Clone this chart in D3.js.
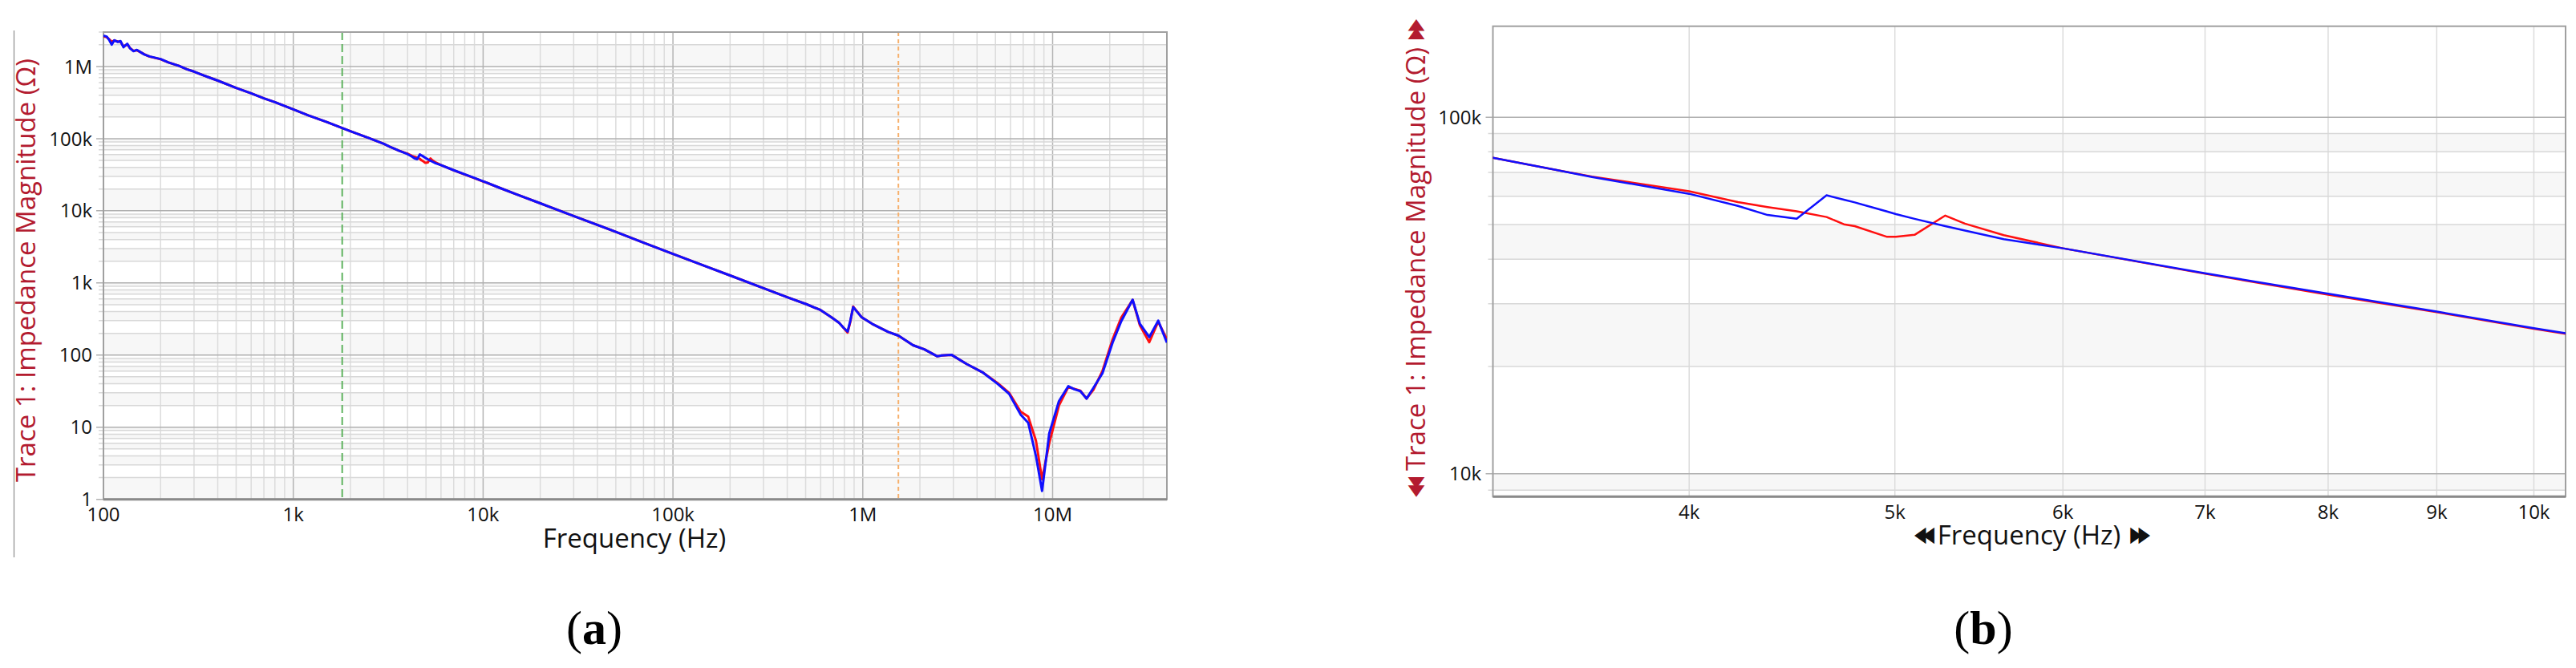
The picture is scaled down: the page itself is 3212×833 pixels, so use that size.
<!DOCTYPE html>
<html><head><meta charset="utf-8">
<script src="https://cdn.jsdelivr.net/npm/d3@7"></script>
<style>body{margin:0;background:#fff}svg{display:block}</style>
</head><body>
<svg id="c" width="3212" height="833"></svg>
<script>
// ---------------- data ----------------
const freqHz = [100,104,107,110.5,114,119,123,127.5,133.5,138,144,150,164,175,200,220,250,275,300,350,400,500,600,700,800,1000,1200,1500,2000,2500,3000,3233,3464,3600,4000,4217,4355,4495,4643,4731,4787,4958,5006,5108,5281,5395,5627,6000,7000,8000,9000,10000,10350,12000,15000,20000,30000,50000,70000,1e5,1.5e5,2e5,3e5,4e5,5.07e5,6e5,6.82e5,7.5e5,7.92e5,8.32e5,8.6e5,8.9e5,9.85e5,1.12e6,1.36e6,1.54e6,1.84e6,2.11e6,2.47e6,2.6e6,2.93e6,3.53e6,4.26e6,5.13e6,5.9e6,6.78e6,7.44e6,8.17e6,8.8e6,9.6e6,1.08e7,1.21e7,1.3e7,1.4e7,1.51e7,1.64e7,1.83e7,2.07e7,2.3e7,2.64e7,2.88e7,3.23e7,3.6e7,4e7];
const zBlue = [2.67e6,2.6e6,2.35e6,2.01e6,2.31e6,2.19e6,2.25e6,1.85e6,2.07e6,1.79e6,1.63e6,1.70e6,1.47e6,1.38e6,1.27e6,1.14e6,1.02e6,9.17e5,8.5e5,7.25e5,6.38e5,5.05e5,4.25e5,3.62e5,3.2e5,2.54e5,2.1e5,1.7e5,1.27e5,1.02e5,8.45e4,7.7e4,7.11e4,6.8e4,6.1e4,5.64e4,5.32e4,5.19e4,6.04e4,5.87e4,5.77e4,5.44e4,5.35e4,5.19e4,4.95e4,4.81e4,4.55e4,4.29e4,3.65e4,3.2e4,2.85e4,2.56e4,2.48e4,2.12e4,1.69e4,1.27e4,8450,5100,3620,2520,1690,1270,845,635,505,420,336,280,239,212,300,463,336,271,210,186,137,120,96,99,101,75,58,40,29,15,11.5,4.0,1.31,8.2,23,37,33.6,31.6,24.9,35,56,149,295,585,273,177,300,149];
const zRed = [2.6e6,2.55e6,2.4e6,2.2e6,2.28e6,2.22e6,2.2e6,1.9e6,2.02e6,1.8e6,1.65e6,1.68e6,1.48e6,1.37e6,1.26e6,1.14e6,1.02e6,9.17e5,8.5e5,7.25e5,6.38e5,5.05e5,4.25e5,3.62e5,3.2e5,2.54e5,2.1e5,1.7e5,1.27e5,1.02e5,8.45e4,7.7e4,7.11e4,6.82e4,6.2e4,5.78e4,5.6e4,5.45e4,5.25e4,5.01e4,4.95e4,4.62e4,4.62e4,4.68e4,5.3e4,5.03e4,4.67e4,4.29e4,3.64e4,3.18e4,2.84e4,2.55e4,2.47e4,2.12e4,1.69e4,1.27e4,8450,5100,3620,2520,1690,1270,845,635,505,420,336,280,239,205,290,470,336,271,210,186,137,120,96,99,101,75,58,41,30,16.5,14,6.5,1.9,6,20,36,34,32,25,33,60,165,330,580,260,151,290,165];
const markerFreqs = [1810, 1.54e6];
const xTicksA = [100,1e3,1e4,1e5,1e6,1e7];
const xTickLabelsA = ["100","1k","10k","100k","1M","10M"];
const yTicksA = [1,10,100,1e3,1e4,1e5,1e6];
const yTickLabelsA = ["1","10","100","1k","10k","100k","1M"];
const xTicksB = [4000,5000,6000,7000,8000,9000,10000];
const xTickLabelsB = ["4k","5k","6k","7k","8k","9k","10k"];
const yTicksB = [1e4,1e5];
const yTickLabelsB = ["10k","100k"];
const xTitle = "Frequency (Hz)";
const yTitle = "Trace 1: Impedance Magnitude (\u03A9)";

// ---------------- drawing ----------------
const svg = d3.select("#c");
const FONT = "'Open Sans','Noto Sans',sans-serif";
const pts = (zs) => freqHz.map((f,i)=>({f, z: zs[i]}));

function gridValues(dom){
  const out=[];
  const e0=Math.floor(Math.log10(dom[0]))-1, e1=Math.ceil(Math.log10(dom[1]));
  for(let e=e0;e<=e1;e++) for(let k=1;k<=9;k++){
    const v=+(k*Math.pow(10,e)).toPrecision(6);
    if(v>=dom[0]*0.999 && v<=dom[1]*1.001) out.push(v);
  }
  return out;
}
const isMajor = v => Math.abs(Math.log10(v)-Math.round(Math.log10(v)))<1e-6;

function panel(o){
  const x=d3.scaleLog().domain(o.xDomain).range([o.left,o.right]);
  const y=d3.scaleLog().domain(o.yDomain).range([o.bottom,o.top]);
  const g=svg.append("g");
  g.append("clipPath").attr("id",o.id+"clip").append("rect")
    .attr("x",o.left).attr("y",o.top).attr("width",o.right-o.left).attr("height",o.bottom-o.top);

  // alternating horizontal bands
  const yg=gridValues(o.yDomain);
  for(let i=0;i+1<yg.length;i+=2){
    g.append("rect").attr("x",o.left).attr("width",o.right-o.left)
      .attr("y",y(yg[i+1])).attr("height",y(yg[i])-y(yg[i+1])).attr("fill","#f7f7f7");
  }
  // vertical grid
  const xg = o.xGrid || gridValues(o.xDomain);
  g.selectAll(null).data(xg).enter().append("line")
    .attr("x1",d=>x(d)).attr("x2",d=>x(d)).attr("y1",o.top).attr("y2",o.bottom)
    .attr("stroke",d=>(o.xMajor&&isMajor(d))?"#b4b4b4":"#dcdcdc").attr("stroke-width",1.5);
  // horizontal grid + ticks
  g.selectAll(null).data(yg).enter().append("line")
    .attr("x1",d=>o.left-(isMajor(d)?9:6)).attr("x2",o.right).attr("y1",d=>y(d)).attr("y2",d=>y(d))
    .attr("stroke",d=>isMajor(d)?"#b0b0b0":"#d8d8d8").attr("stroke-width",1.5);

  // markers
  if(o.markers){
    g.selectAll(null).data(o.markers).enter().append("line")
      .attr("x1",d=>x(d.f)).attr("x2",d=>x(d.f)).attr("y1",o.top).attr("y2",o.bottom)
      .attr("stroke",d=>d.c).attr("stroke-width",2).attr("stroke-dasharray",d=>d.dash);
  }

  // border
  g.append("rect").attr("x",o.left).attr("y",o.top).attr("width",o.right-o.left).attr("height",o.bottom-o.top)
    .attr("fill","none").attr("stroke","#a0a0a0").attr("stroke-width",2);
  g.append("line").attr("x1",o.left).attr("x2",o.right).attr("y1",o.bottom).attr("y2",o.bottom)
    .attr("stroke","#8a8a8a").attr("stroke-width",3);

  // series
  const line=d3.line().x(d=>x(d.f)).y(d=>y(d.z));
  const sg=g.append("g").attr("clip-path",`url(#${o.id}clip)`);
  sg.append("path").datum(pts(zRed)).attr("d",line).attr("fill","none").attr("stroke","#ff1010").attr("stroke-width",o.lw).attr("stroke-linejoin","round");
  sg.append("path").datum(pts(zBlue)).attr("d",line).attr("fill","none").attr("stroke","#1010ff").attr("stroke-width",o.lw).attr("stroke-linejoin","round");

  // tick labels
  g.selectAll(null).data(o.xTicks).enter().append("text")
    .attr("x",d=>x(d)).attr("y",o.xLabelY).attr("text-anchor","middle")
    .attr("font-family",FONT).attr("font-size",24).attr("fill","#111")
    .text((d,i)=>o.xLabels[i]);
  g.selectAll(null).data(o.yTicks).enter().append("text")
    .attr("x",o.yLabelX).attr("y",d=>y(d)).attr("dy","0.36em").attr("text-anchor","end")
    .attr("font-family",FONT).attr("font-size",24).attr("fill","#111")
    .text((d,i)=>o.yLabels[i]);

  // x title
  const xt=g.append("text").attr("x",o.xTitleX).attr("y",o.xTitleY).attr("text-anchor","middle")
    .attr("font-family",FONT).attr("font-size",33).attr("fill","#111").text(xTitle);
  // y title
  const yt=g.append("text").attr("transform",`translate(${o.yTitleX},${o.yTitleY}) rotate(-90)`)
    .attr("text-anchor","middle").attr("font-family",FONT).attr("font-size",33).attr("fill","#b31b2f").text(yTitle);

  if(o.arrows){
    const xl=xt.node().getComputedTextLength();
    const ar=(parent,tx,ty,rot,txt,col,anchor)=>parent.append("text")
      .attr("transform",`translate(${tx},${ty}) rotate(${rot}) scale(0.7,1)`)
      .attr("text-anchor",anchor).attr("font-family","'DejaVu Sans'").attr("font-size",27)
      .attr("letter-spacing",-6).attr("fill",col).text(txt);
    ar(g,o.xTitleX-xl/2-8,o.xTitleY-4,0,"\u25C0\u25C0","#111","end");
    ar(g,o.xTitleX+xl/2+12,o.xTitleY-4,0,"\u25B6\u25B6","#111","start");
    const yl=yt.node().getComputedTextLength();
    ar(g,o.yTitleX-4,o.yTitleY+yl/2+12,-90,"\u25C0\u25C0","#b31b2f","end");
    ar(g,o.yTitleX-4,o.yTitleY-yl/2-10,-90,"\u25B6\u25B6","#b31b2f","start");
  }
}

// frame line at far left of panel (a)
svg.append("line").attr("x1",17.5).attr("x2",17.5).attr("y1",38).attr("y2",695).attr("stroke","#8c8c8c").attr("stroke-width",1.2);

panel({id:"a", xDomain:[100,4e7], yDomain:[1,3e6], left:129, right:1455, top:40, bottom:622.7,
  xMajor:true, lw:3,
  markers:[{f:markerFreqs[0],c:"#5fb35f",dash:"10,5"},{f:markerFreqs[1],c:"#f7b06c",dash:"5,4"}],
  xTicks:xTicksA, xLabels:xTickLabelsA, yTicks:yTicksA, yLabels:yTickLabelsA,
  xLabelY:650, yLabelX:115, xTitleX:791, xTitleY:683, yTitleX:44, yTitleY:337});

panel({id:"b", xDomain:[3233,10350], yDomain:[8630,180000], left:1861.5, right:3199, top:32.7, bottom:619.3,
  xGrid:xTicksB, xMajor:false, lw:2.5, arrows:true,
  xTicks:xTicksB, xLabels:xTickLabelsB, yTicks:yTicksB, yLabels:yTickLabelsB,
  xLabelY:647, yLabelX:1847, xTitleX:2530, xTitleY:679, yTitleX:1777, yTitleY:323});

// captions
const cap=(cx,letter)=>{
  const t=svg.append("text").attr("x",cx).attr("y",803).attr("text-anchor","middle")
    .attr("font-family","'Liberation Serif',serif").attr("font-size",60).attr("fill","#000");
  t.append("tspan").text("(");
  t.append("tspan").attr("font-weight","bold").text(letter);
  t.append("tspan").text(")");
};
cap(741,"a"); cap(2473,"b");
</script>
</body></html>
